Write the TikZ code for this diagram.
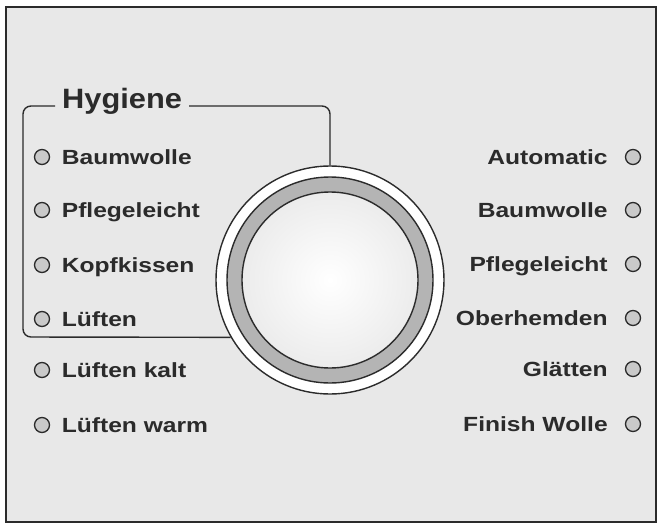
\documentclass[tikz,border=0pt]{standalone}
\usepackage{fontspec}
\newfontfamily\panelfont[FakeStretch=1.2]{Liberation Sans}
\newfontfamily\titlefont[FakeStretch=1.1]{Liberation Sans}
\usetikzlibrary{positioning}

\definecolor{ink}{HTML}{2B2B2B}
\definecolor{panel}{HTML}{E8E8E8}
\definecolor{band}{HTML}{B4B4B4}
\definecolor{led}{HTML}{C9C9C9}

\begin{document}
\begin{tikzpicture}[x=1pt,y=-1pt]

      \useasboundingbox[fill=white] (0,0) rectangle (659,528);
      \draw[ink, line width=2.2pt, fill=panel] (6,7) rectangle (656,522);

      % dial
      \node[circle, draw=ink, line width=1.4pt, fill=white, minimum size=228pt, inner sep=0pt] (dial) at (330,280) {};
      \draw[ink, line width=1.4pt, fill=band] (dial.center) circle[radius=103pt];
      \draw[ink, line width=1.4pt, inner color=white, outer color=gray!15] (dial.center) circle[radius=88pt];

      % hygiene group
      \node[font=\titlefont\bfseries\fontsize{28}{32}\selectfont, text=ink, inner xsep=7pt, inner ysep=0pt, anchor=mid west] (hyg) at (55,106) {Hygiene};
      \draw[ink, line width=1.4pt, rounded corners=8pt] (hyg.mid west) -- (23,106) -- (23,337) -- (dial.210);
      \draw[ink, line width=1.4pt, rounded corners=8pt] (hyg.mid east) -- (330,106) -- (dial.north);

      \begin{scope}[every node/.style={circle, draw=ink, fill=led, line width=1.3pt, minimum size=15pt, inner sep=0pt}]
        \node (l1) at (42,157) {};
        \node (l2) at (42,210) {};
        \node (l3) at (42,265) {};
        \node (l4) at (42,319) {};
        \node (l5) at (42,370) {};
        \node (l6) at (42,425) {};
        \node (r1) at (633,157) {};
        \node (r2) at (633,210) {};
        \node (r3) at (633,264) {};
        \node (r4) at (633,318) {};
        \node (r5) at (633,369) {};
        \node (r6) at (633,424) {};
      \end{scope}

      \begin{scope}[every node/.style={font=\panelfont\bfseries\fontsize{20.5}{24}\selectfont, text=ink, inner sep=0pt, text height=14.7pt, text depth=0pt}]
        \node[right=11.5pt of l1] (bw)  {Baumwolle};
        \node[right=11.5pt of l2] (pf)  {Pflegeleicht};
        \node[right=11.5pt of l3] (kk)  {Kopfkissen};
        \node[right=11.5pt of l4] (lf)  {Lüften};
        \node[right=11.5pt of l5] (lk)  {Lüften kalt};
        \node[right=11.5pt of l6] (lw)  {Lüften warm};
        \node[left=17pt of r1]    (au)  {Automatic};
        \node[left=17pt of r2]    (bw2) {Baumwolle};
        \node[left=17pt of r3]    (pf2) {Pflegeleicht};
        \node[left=17pt of r4]    (oh)  {Oberhemden};
        \node[left=17pt of r5]    (gl)  {Glätten};
        \node[left=17pt of r6]    (fw)  {Finish Wolle};
      \end{scope}

    \end{tikzpicture}
\end{document}
